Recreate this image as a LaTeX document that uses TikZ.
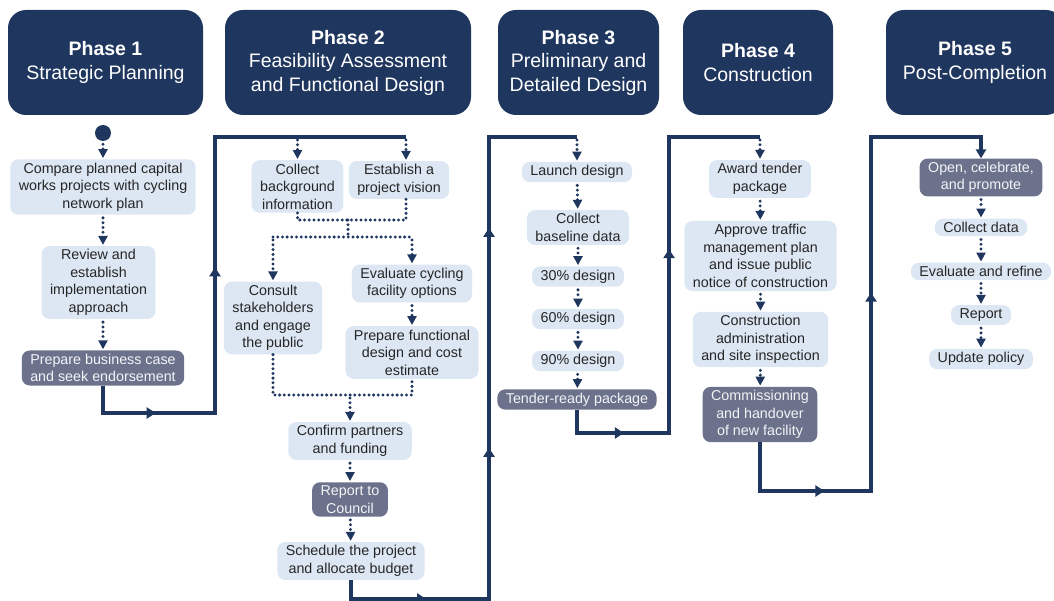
\documentclass[tikz,border=0pt]{standalone}
\usepackage{fontspec}
\setmainfont{Liberation Sans}
\usetikzlibrary{arrows.meta, decorations.markings}

\definecolor{navy}{HTML}{1F365F}
\definecolor{paleblue}{HTML}{DCE7F3}
\definecolor{slate}{HTML}{6C728C}
\definecolor{inkgray}{HTML}{262626}

\begin{document}
\begin{tikzpicture}[x=1pt, y=-1pt,
		phase/.style={rectangle, rounded corners=18pt, fill=navy, text=white, inner sep=0pt, minimum height=105pt, align=center, font=\fontsize{19.5}{23.5}\selectfont},
		task/.style={rectangle, rounded corners=8pt, fill=paleblue, text=inkgray, inner xsep=8.5pt, inner ysep=3.5pt, align=center, font=\fontsize{14.3}{17.5}\selectfont},
		keytask/.style={task, fill=slate, text=white!92!slate},
		link/.style={color=navy, line width=3.8pt, postaction={decorate}},
		midarrow/.style={decoration={markings, mark=at position #1 with {\arrow{Triangle[length=9pt, width=11pt]}}}},
		flow/.style={color=navy, line width=3.3pt, dash pattern=on 0pt off 4.8pt, line cap=round, shorten <=3pt, shorten >=1pt, -{Triangle[length=9pt, width=9pt]}},
		merge/.style={color=navy, line width=3.3pt, dash pattern=on 0pt off 4.7pt, line cap=round}]
		
		\clip (0,0) rectangle (1054,601);
		
		% Phase headers
		\node[phase, minimum width=195pt] (ph1) at (105.5,62.5) {\textbf{Phase 1}\\Strategic Planning};
		\node[phase, minimum width=246pt] (ph2) at (348,62.5) {\textbf{Phase 2}\\Feasibility Assessment\\and Functional Design};
		\node[phase, minimum width=161pt] (ph3) at (578.5,62.5) {\textbf{Phase 3}\\Preliminary and\\Detailed Design};
		\node[phase, minimum width=150pt] (ph4) at (758,62.5) {\textbf{Phase 4}\\Construction};
		\node[phase, minimum width=178pt] (ph5) at (975,62.5) {\textbf{Phase 5}\\Post-Completion};
		
		% Phase 1 nodes
		\node[circle, fill=navy, minimum size=16pt, inner sep=0pt] (start) at (103,133) {};
		\node[task] (compare) at (103,187) {Compare planned capital\\works projects with cycling\\network plan};
		\node[task] (review) at (98.5,282.5) {Review and\\establish\\implementation\\approach};
		\node[keytask] (biz_case) at (103,368) {Prepare business case\\and seek endorsement};
		
		% Phase 2 nodes
		\node[task] (collect_bg) at (297.5,186.5) {Collect\\background\\information};
		\node[task] (vision) at (399,180) {Establish a\\project vision};
		\node[task] (consult) at (273,318) {Consult\\stakeholders\\and engage\\the public};
		\node[task] (evaluate) at (412,283.5) {Evaluate cycling\\facility options};
		\node[task] (prep_fd) at (412,352.5) {Prepare functional\\design and cost\\estimate};
		\node[task] (confirm) at (350,441) {Confirm partners\\and funding};
		\node[keytask] (council) at (350,499.5) {Report to\\Council};
		\node[task] (sched) at (351,561) {Schedule the project\\and allocate budget};
		
		% Phase 3 nodes
		\node[task] (launch) at (577,172) {Launch design};
		\node[task] (baseline) at (578,227.5) {Collect\\baseline data};
		\node[task] (d30) at (578,276.5) {30\% design};
		\node[task] (d60) at (578,319) {60\% design};
		\node[task] (d90) at (578,361) {90\% design};
		\node[keytask] (tender) at (577,399.5) {Tender-ready package};
		
		% Phase 4 nodes
		\node[task] (award) at (760,179) {Award tender\\package};
		\node[task] (traffic) at (760.5,256) {Approve traffic\\management plan\\and issue public\\notice of construction};
		\node[task] (site) at (760.5,339.5) {Construction\\administration\\and site inspection};
		\node[keytask] (comm) at (760,414.5) {Commissioning\\and handover\\of new facility};
		
		% Phase 5 nodes
		\node[keytask] (open) at (981,177.5) {Open, celebrate,\\and promote};
		\node[task] (collect_data) at (981,227.5) {Collect data};
		\node[task] (refine) at (981,271.5) {Evaluate and refine};
		\node[task] (report) at (981,315) {Report};
		\node[task] (policy) at (981,359) {Update policy};
		
		% Turning points of the links between phases
		\coordinate (turn1) at (215,413);
		\coordinate (rail2) at (406,137);
		\coordinate (turn2) at (489,599);
		\coordinate (rail3) at (577,137);
		\coordinate (turn3) at (669,433);
		\coordinate (rail4) at (760,137);
		\coordinate (turn4) at (871,491);
		\coordinate (rail5) at (981,137);
		\coordinate (join_a) at (348,220);
		\coordinate (join_b) at (348,237);
		\coordinate (join_c) at (350,395);
		
		% Links between phases
		\draw[link, midarrow=80pt, midarrow=285pt] (biz_case.south) |- (turn1) |- (rail2);
		\draw[link, midarrow=94pt, midarrow=308pt, midarrow=528pt] (sched.south) |- (turn2) |- (rail3);
		\draw[link, midarrow=70pt, midarrow=299pt] (tender.south) |- (turn3) |- (rail4);
		\draw[link, midarrow=113pt, midarrow=358pt, -{Triangle[length=9pt, width=10pt]}] (comm.south) |- (turn4) |- (rail5) -- (open.north);
		
		% Phase 1 steps
		\draw[flow] (start) -- (compare);
		\draw[flow] (compare.south) -- (compare.south |- review.north);
		\draw[flow] (compare.south |- review.south) -- (biz_case.north);
		
		% Phase 2 steps
		\draw[flow] (collect_bg.north |- rail2) -- (collect_bg.north);
		\draw[flow] (rail2) -- (rail2 |- vision.north);
		\draw[merge] (collect_bg.south) |- (join_a) -| (vision.south -| rail2);
		\draw[merge] (join_a) -- (join_b);
		\draw[merge] (consult.north |- join_b) -- (evaluate.north |- join_b);
		\draw[flow] (consult.north |- join_b) -- (consult.north);
		\draw[flow] (evaluate.north |- join_b) -- (evaluate.north);
		\draw[flow] (evaluate) -- (prep_fd);
		\draw[merge] (consult.south) |- (join_c) -| (prep_fd.south);
		\draw[flow] (join_c) -- (confirm.north);
		\draw[flow] (confirm) -- (council);
		\draw[flow] (council) -- (sched);
		
		% Phase 3 steps
		\draw[flow] (rail3) -- (launch.north);
		\draw[flow] (launch) -- (baseline);
		\draw[flow] (baseline) -- (d30);
		\draw[flow] (d30) -- (d60);
		\draw[flow] (d60) -- (d90);
		\draw[flow] (d90) -- (tender);
		
		% Phase 4 steps
		\draw[flow] (rail4) -- (award.north);
		\draw[flow] (award) -- (traffic);
		\draw[flow] (traffic) -- (site);
		\draw[flow] (site) -- (comm);
		
		% Phase 5 steps
		\draw[flow] (open) -- (collect_data);
		\draw[flow] (collect_data) -- (refine);
		\draw[flow] (refine) -- (report);
		\draw[flow] (report) -- (policy);
		
	\end{tikzpicture}
\end{document}
